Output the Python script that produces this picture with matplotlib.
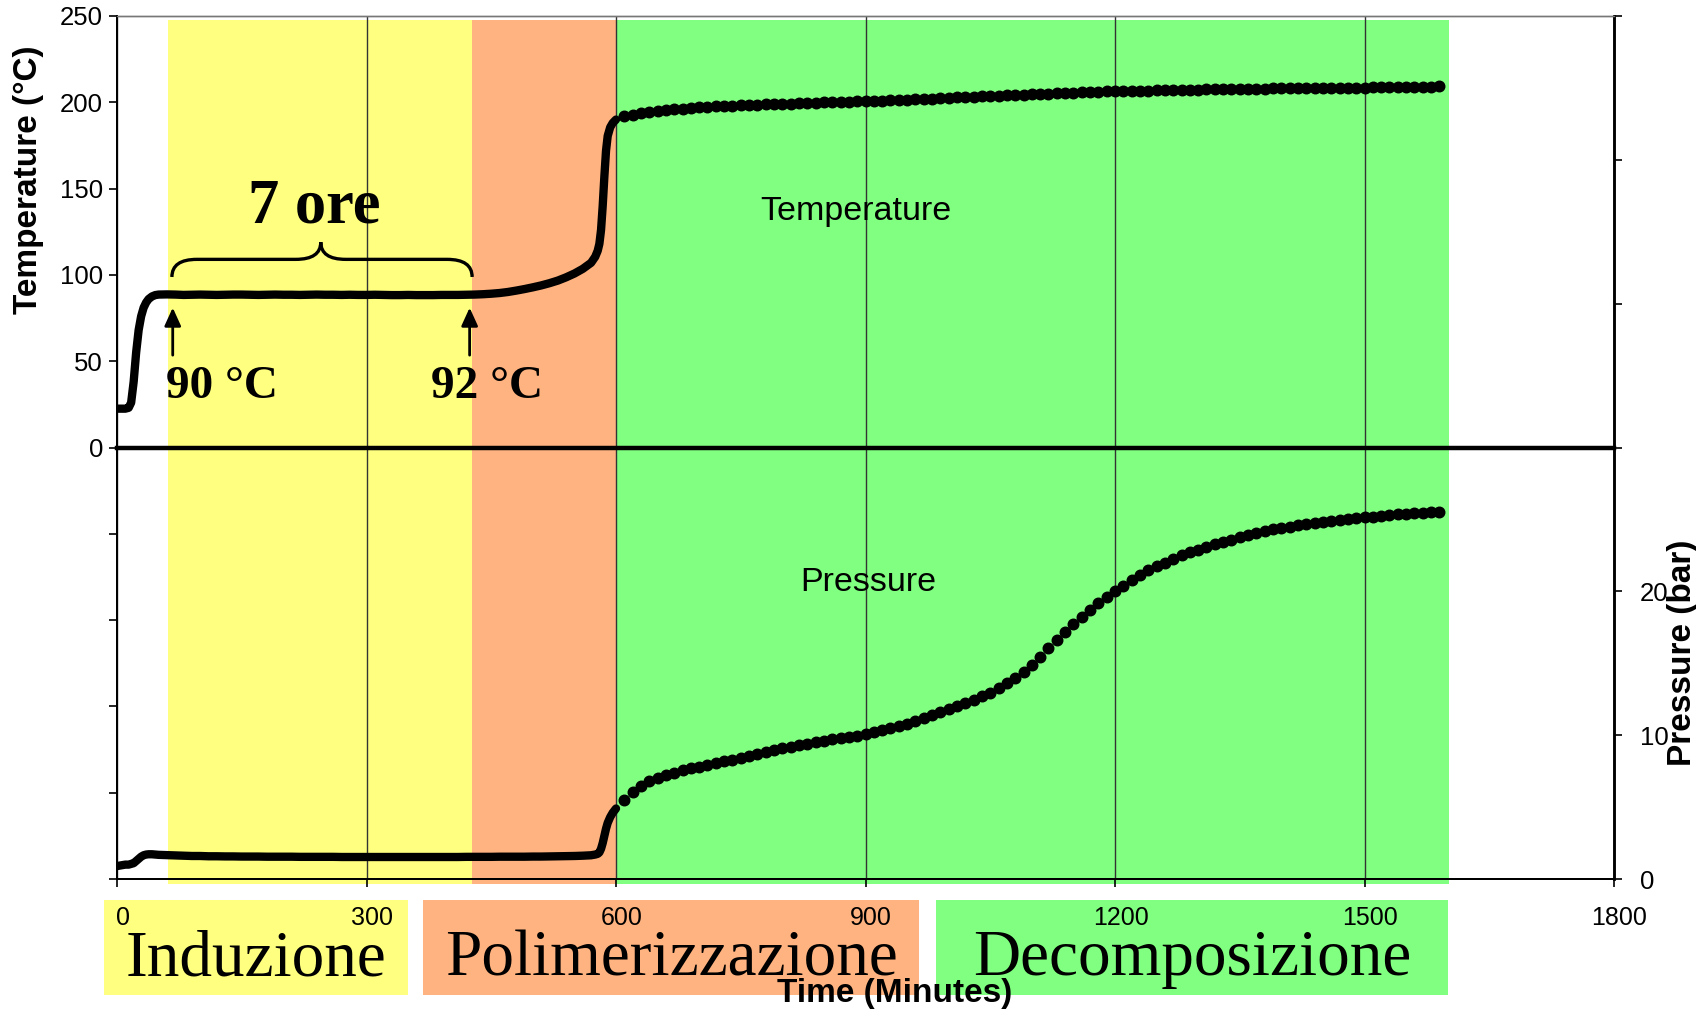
import numpy as np
import matplotlib.pyplot as plt
from matplotlib.patches import Rectangle, PathPatch
from matplotlib.path import Path
from matplotlib.transforms import ScaledTranslation, blended_transform_factory

plt.rcParams["font.family"] = ["Liberation Sans", "DejaVu Sans"]

# sampling times (minutes)
t_start = [0, 5, 10, 14, 17, 20, 23, 26, 29, 32, 35, 38, 42, 46, 50]
t_plateau = list(range(60, 571, 10))
t_jump = [575, 578, 580, 582, 584, 586, 588, 590, 593, 596]
t_late = list(range(600, 1591, 10))
time = np.array(t_start + t_plateau + t_jump + t_late)

# temperature (°C)
temp_start = [22.5, 22.5, 22.5, 23.0, 26.0, 38.0, 55.0, 68.0, 76.0, 81.0, 84.0, 86.0, 87.5, 88.3, 88.6]
temp_plateau = [88.7, 88.6, 88.4, 88.5, 88.6, 88.5, 88.4, 88.5, 88.6, 88.6,
                88.5, 88.4, 88.5, 88.6, 88.5, 88.5, 88.4, 88.5, 88.6, 88.5,
                88.5, 88.4, 88.5, 88.4, 88.4, 88.5, 88.4, 88.3, 88.3, 88.4,
                88.3, 88.3, 88.3, 88.4, 88.4, 88.4, 88.5, 88.6, 88.8, 89.1,
                89.5, 90.1, 90.9, 91.8, 92.8, 93.9, 95.2, 96.7, 98.6, 100.8,
                103.5, 107.0]
temp_jump = [110.5, 114.0, 118.0, 126.0, 140.0, 157.0, 172.0, 180.5, 185.5, 188.0]
temp_late = [190.0, 191.8, 192.8, 193.7, 194.4, 195.0, 195.5, 196.0, 196.4, 196.8,
             197.1, 197.4, 197.6, 197.8, 198.0, 198.2, 198.4, 198.6, 198.8, 198.9,
             199.1, 199.3, 199.4, 199.6, 199.7, 199.9, 200.0, 200.2, 200.3, 200.5,
             200.6, 200.8, 201.0, 201.2, 201.4, 201.6, 201.8, 202.0, 202.2, 202.4,
             202.6, 202.8, 203.0, 203.2, 203.4, 203.6, 203.8, 204.0, 204.2, 204.4,
             204.6, 204.8, 205.0, 205.2, 205.4, 205.6, 205.8, 206.0, 206.1, 206.3,
             206.4, 206.5, 206.6, 206.7, 206.8, 206.9, 207.0, 207.1, 207.2, 207.3,
             207.4, 207.5, 207.5, 207.6, 207.7, 207.7, 207.8, 207.9, 207.9, 208.0,
             208.0, 208.1, 208.1, 208.2, 208.2, 208.3, 208.3, 208.4, 208.4, 208.5,
             208.5, 208.6, 208.6, 208.7, 208.7, 208.8, 208.8, 208.9, 209.0, 209.2]
temperature = np.array(temp_start + temp_plateau + temp_jump + temp_late)

# pressure (bar)
pres_start = [0.9, 0.95, 1.0, 1.0, 1.05, 1.1, 1.25, 1.4, 1.55, 1.65, 1.7, 1.72, 1.72, 1.7, 1.68]
pres_plateau = [1.66, 1.64, 1.62, 1.60, 1.60, 1.58, 1.58, 1.57, 1.57, 1.56,
                1.56, 1.56, 1.55, 1.55, 1.55, 1.55, 1.54, 1.54, 1.54, 1.54,
                1.54, 1.53, 1.53, 1.53, 1.53, 1.53, 1.53, 1.53, 1.53, 1.53,
                1.53, 1.53, 1.53, 1.53, 1.53, 1.53, 1.54, 1.54, 1.54, 1.54,
                1.55, 1.55, 1.55, 1.55, 1.56, 1.56, 1.57, 1.58, 1.59, 1.60,
                1.62, 1.65]
pres_jump = [1.70, 1.75, 1.85, 2.1, 2.5, 3.0, 3.5, 3.9, 4.3, 4.6]
pres_late = [4.9, 5.5, 6.05, 6.45, 6.8, 7.05, 7.2, 7.35, 7.55, 7.7,
             7.82, 7.95, 8.05, 8.18, 8.3, 8.42, 8.55, 8.68, 8.82, 8.95,
             9.08, 9.2, 9.3, 9.4, 9.5, 9.6, 9.7, 9.8, 9.88, 9.95,
             10.05, 10.2, 10.35, 10.5, 10.65, 10.8, 11.0, 11.2, 11.4, 11.6,
             11.85, 12.05, 12.25, 12.45, 12.7, 12.95, 13.25, 13.6, 14.0, 14.4,
             14.85, 15.45, 16.05, 16.65, 17.2, 17.7, 18.2, 18.7, 19.2, 19.6,
             20.0, 20.4, 20.8, 21.15, 21.45, 21.75, 22.0, 22.25, 22.5, 22.7,
             22.9, 23.1, 23.3, 23.45, 23.6, 23.75, 23.9, 24.05, 24.2, 24.3,
             24.4, 24.5, 24.6, 24.68, 24.76, 24.84, 24.9, 24.97, 25.03, 25.1,
             25.15, 25.2, 25.25, 25.3, 25.35, 25.4, 25.43, 25.46, 25.5, 25.55]
pressure = np.array(pres_start + pres_plateau + pres_jump + pres_late)

# phases
phase_names = ["Induzione", "Polimerizzazione", "Decomposizione"]
phase_start = [61, 426.5, 600]
phase_end = [426.5, 600, 1601]
phase_colors = ["#FFFF80", "#FFB380", "#80FF80"]

x_ticks = [0, 300, 600, 900, 1200, 1500, 1800]

fig = plt.figure(figsize=(16.96, 10.10), dpi=100)
ax = fig.add_axes([0.06899, 0.12970, 0.88267, 0.85446])
ax2 = ax.twinx()

ax.set_xlim(0, 1800)
ax.set_ylim(-250, 250)
ax2.set_ylim(0, 60)

# coloured phase bands
band_tr = blended_transform_factory(ax.transData, ax.transAxes)
for s, e, c in zip(phase_start, phase_end, phase_colors):
    ax.add_patch(Rectangle((s, -0.0058), e - s, 1.0012, transform=band_tr,
                           facecolor=c, edgecolor="none", zorder=0.5, clip_on=False))

ax.set_xticks(x_ticks)
ax.grid(axis="x", color="#333333", lw=1.0)
ax.axhline(0, color="black", lw=3.2, zorder=3, clip_on=False)

# temperature: dense part as a line, later part as dots
early = time <= 600
ax.plot(time[early], temperature[early], color="black", lw=6,
        solid_capstyle="round", solid_joinstyle="round", zorder=4)
ax.plot(time[~early], temperature[~early], "o", color="black", ms=7.6, zorder=4)

ax2.plot(time[early], pressure[early], color="black", lw=6,
         solid_capstyle="round", solid_joinstyle="round", zorder=4)
ax2.plot(time[~early], pressure[~early], "o", color="black", ms=7.6, zorder=4)

# ticks and spines
ax.set_yticks(range(-250, 251, 50))
ax.set_yticklabels([str(v) if v >= 0 else "" for v in range(-250, 251, 50)])
ax2.set_yticks(range(0, 61, 10))
ax2.set_yticklabels([str(v) if v <= 20 else "" for v in range(0, 61, 10)])
ax.tick_params(axis="y", direction="out", length=5.8, width=1.2, labelsize=18.5, pad=4.3)
ax.tick_params(axis="x", direction="out", length=5.8, width=1.2, labelsize=18, pad=13.5)
ax2.tick_params(axis="y", direction="out", length=5.8, width=1.2, labelsize=18.5, pad=13)
for lab in ax.get_xticklabels():
    lab.set_transform(lab.get_transform() + ScaledTranslation(0.055, 0, fig.dpi_scale_trans))

for a in (ax, ax2):
    a.spines["top"].set_color("#777777")
    a.spines["top"].set_linewidth(1.0)
    a.spines["left"].set_linewidth(1.4)
    a.spines["bottom"].set_linewidth(1.4)
    a.spines["right"].set_linewidth(1.8)
ax.set_zorder(1)
ax2.set_zorder(2)
ax.patch.set_visible(False)

# annotations
ax.text(889, 137, "Temperature", fontsize=24.5, ha="center", va="center")
ax2.text(903, 20.6, "Pressure", fontsize=24.5, ha="center", va="center")
ax.text(237, 130.6, "7 ore", fontsize=45, fontweight="bold", family="Liberation Serif",
        ha="center", va="baseline")
ax.text(59, 28.7, "90 °C", fontsize=34, fontweight="bold", family="Liberation Serif",
        ha="left", va="baseline")
ax.text(377.5, 28.7, "92 °C", fontsize=34, fontweight="bold", family="Liberation Serif",
        ha="left", va="baseline")
for xa in (67, 424):
    ax.annotate("", xy=(xa, 81), xytext=(xa, 53.5),
                arrowprops=dict(arrowstyle="-|>,head_length=1.1,head_width=0.5",
                                color="black", lw=2, shrinkA=0, shrinkB=0))

# curly brace over the plateau
bx0, bx1, bxm, br = 66, 427, 245, 30
by_end, by_h, by_tip = 98.8, 109, 119
verts = [(bx0, by_end), (bx0, by_h), (bx0 + br, by_h),
         (bxm - br, by_h), (bxm, by_h), (bxm, by_tip),
         (bxm, by_h), (bxm + br, by_h),
         (bx1 - br, by_h), (bx1, by_h), (bx1, by_end)]
codes = [Path.MOVETO, Path.CURVE3, Path.CURVE3,
         Path.LINETO, Path.CURVE3, Path.CURVE3,
         Path.CURVE3, Path.CURVE3,
         Path.LINETO, Path.CURVE3, Path.CURVE3]
ax.add_patch(PathPatch(Path(verts, codes), fill=False, lw=2.4, color="black", zorder=5))

# axis titles
fig.text(29 / 1696, 1 - 180 / 1010, "Temperature (°C)", rotation=90, fontsize=24,
         fontweight="bold", ha="center", va="center")
fig.text(1682 / 1696, 1 - 653 / 1010, "Pressure (bar)", rotation=90, fontsize=24,
         fontweight="bold", ha="center", va="center", zorder=5)

# phase label boxes under the axis
box_x = [(104, 408), (423, 919), (936, 1448)]
for (x0, x1), name, c in zip(box_x, phase_names, phase_colors):
    fig.patches.append(Rectangle((x0 / 1696, 1 - 995 / 1010), (x1 - x0) / 1696, 95 / 1010,
                                 transform=fig.transFigure, facecolor=c, edgecolor="none",
                                 zorder=-1))
    fig.text((x0 + x1) / 2 / 1696, 1 - 975 / 1010, name, fontsize=47,
             family="Liberation Serif", ha="center", va="baseline", zorder=3)

fig.text(895 / 1696, 1 - 1002 / 1010, "Time (Minutes)", fontsize=24, fontweight="bold",
         ha="center", va="baseline", zorder=4)

fig.savefig("out.png", dpi=100)
